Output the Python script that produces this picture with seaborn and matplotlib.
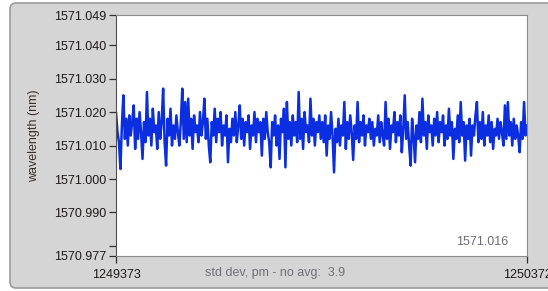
import numpy as np
import pandas as pd
import matplotlib
matplotlib.use("Agg")
import matplotlib.pyplot as plt
from matplotlib.patches import FancyBboxPatch
import seaborn as sns

# deviation from 1571.000 nm, in pm (left to right)
dev_pm = [
    20, 14, 11, 3, 16, 25, 12, 18, 10, 19, 13, 17, 22, 9, 18, 12, 20, 14, 6, 17,
    11, 26, 13, 18, 10, 21, 14, 16, 9, 20, 12, 17, 27, 11, 4, 18, 13, 21, 10, 16,
    12, 19, 14, 10, 17, 27, 12, 23, 11, 24, 13, 18, 9, 19, 14, 16, 11, 20, 13, 17,
    24, 12, 18, 10, 5, 17, 13, 21, 11, 18, 14, 20, 10, 16, 13, 19, 5, 15, 11, 18,
    13, 20, 11, 16, 22, 12, 18, 10, 17, 14, 19, 9, 16, 13, 20, 11, 18, 14, 17, 7,
    18, 12, 20, 14, 11, 3.5, 17, 13, 19, 10, 16, 6, 18, 14, 21, 3.5, 23, 12, 17, 10,
    19, 13, 17, 11, 26, 12, 18, 9, 20, 14, 16, 11, 24, 13, 18, 10, 17, 14, 19, 12,
    17, 11, 19, 7, 16, 12, 20, 13, 2, 15, 11, 18, 10, 16, 13, 23, 9, 17, 12, 19,
    14, 5.7, 16, 12, 23, 11, 17, 13, 19, 10, 16, 14, 18, 12, 17, 10, 15, 13, 19, 11,
    17, 13, 10, 23, 12, 18, 9, 16, 14, 20, 11, 17, 13, 19, 8, 15, 25, 12, 17, 10,
    4, 18, 13, 5, 16, 12, 20, 11, 24, 13, 17, 9, 19, 14, 16, 10, 18, 13, 20, 11,
    17, 14, 19, 10, 16, 12, 21, 13, 17, 6, 15, 12, 19, 11, 23, 13, 17, 5.5, 16, 12,
    18, 7, 16, 13, 19, 23, 11, 17, 12, 20, 10, 16, 13, 19, 11, 17, 9, 15, 13, 18,
    12, 17, 14, 10, 22, 12, 23, 13, 17, 10, 18, 12, 16, 13, 8, 17, 12, 23, 13, 16,
]
base_nm = 1571.000
x_start = 1249373
x_end = 1250372

ytick_values = [1570.977, 1570.980, 1570.990, 1571.000, 1571.010,
                1571.020, 1571.030, 1571.040, 1571.049]
ytick_labels = ["1570.977", "", "1570.990", "1571.000", "1571.010",
                "1571.020", "1571.030", "1571.040", "1571.049"]
xtick_values = [x_start, x_end]
xtick_labels = ["1249373", "1250372"]

std_text = "std dev, pm - no avg:  3.9"
last_text = "1571.016"

df = pd.DataFrame({
    "sample": np.linspace(x_start, x_end, len(dev_pm)),
    "wavelength": base_nm + np.array(dev_pm) / 1000.0,
})

sns.set_theme(style="white")
plt.rcParams["font.family"] = ["Liberation Sans", "DejaVu Sans"]

fig = plt.figure(figsize=(5.48, 2.91), dpi=100, facecolor="white")

# grey LabVIEW-ish panel behind the graph
panel = FancyBboxPatch((10, 3), 560, 285, boxstyle="round,pad=0,rounding_size=6",
                       transform=None, facecolor="#d5d5d5", edgecolor="#9c9c9c",
                       linewidth=1.2, zorder=-5)
fig.patches.append(panel)

ax = fig.add_axes([116 / 548, 35 / 291, 411 / 548, 241 / 291])
ax.set_zorder(1)
ax.set_facecolor("white")

sns.lineplot(data=df, x="sample", y="wavelength", ax=ax, color="#0a2ee0",
             linewidth=1.8, estimator=None, sort=False)

ax.set_xlim(x_start, x_end)
ax.set_ylim(ytick_values[0], ytick_values[-1])
ax.set_yticks(ytick_values)
ax.set_yticklabels(ytick_labels)
ax.set_xticks(xtick_values)
ax.set_xticklabels(xtick_labels)
ax.tick_params(axis="both", which="major", direction="out", length=5, width=0.9,
               color="#303030", labelsize=9, labelcolor="#1e1a1a", pad=2,
               left=True, bottom=True)
ax.tick_params(axis="x", pad=4)

for side, sp in ax.spines.items():
    sp.set_color("#8a8a8a")
    sp.set_linewidth(0.8)
ax.spines["left"].set_color("#505050")

ax.set_xlabel("")
ax.set_ylabel("wavelength (nm)", fontsize=9, color="#3a302c")
ax.yaxis.set_label_coords(-0.185, 0.5)

ax.text(0.955, 0.06, last_text, transform=ax.transAxes, ha="right", va="center",
        fontsize=9, color="#6c6c78")
fig.text(205 / 548, 1 - 273 / 291, std_text, ha="left", va="center",
         fontsize=9, color="#707078", zorder=2)

fig.savefig("out.png", dpi=100, facecolor="white")
